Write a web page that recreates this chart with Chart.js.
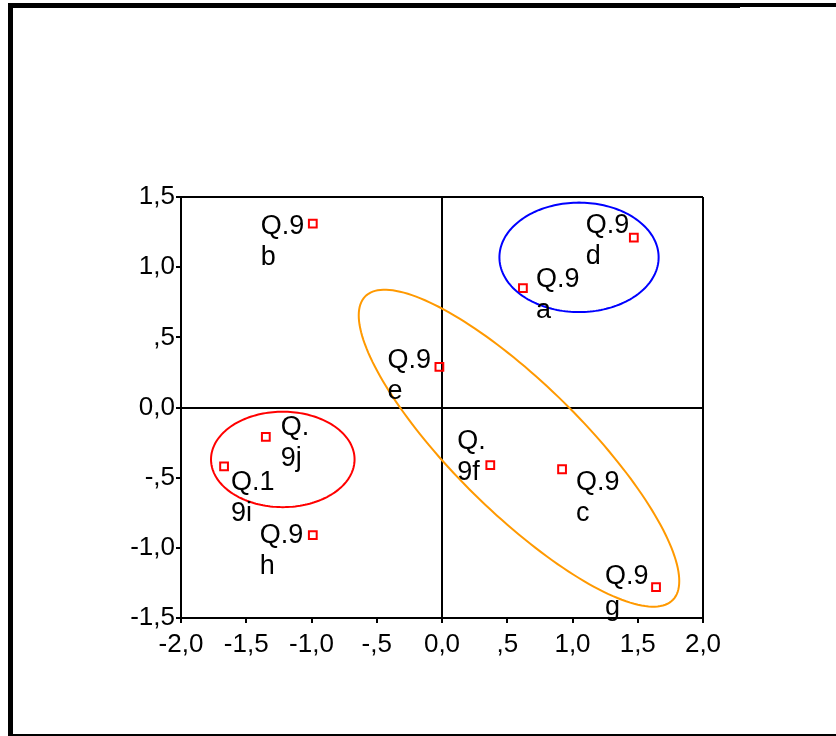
<!DOCTYPE html>
<html>
<head>
<meta charset="utf-8">
<title>Q.9 scatter</title>
<script src="https://cdn.jsdelivr.net/npm/chart.js@4/dist/chart.umd.min.js"></script>
<style>
  html, body { margin: 0; padding: 0; background: #fff; }
  canvas { display: block; }
</style>
</head>
<body>
<canvas id="plot" width="836" height="736"></canvas>
<script>
// ---------- data ----------
const pointNames = ["Q.9a", "Q.9b", "Q.9c", "Q.9d", "Q.9e", "Q.9f", "Q.9g", "Q.9h", "Q.19i", "Q.9j"];
const labelLines = [["Q.9", "a"], ["Q.9", "b"], ["Q.9", "c"], ["Q.9", "d"], ["Q.9", "e"],
                    ["Q.", "9f"], ["Q.9", "g"], ["Q.9", "h"], ["Q.1", "9i"], ["Q.", "9j"]];
const dim1 = [0.62, -0.99, 0.92, 1.47, -0.02, 0.37, 1.64, -0.99, -1.67, -1.35];
const dim2 = [0.85, 1.31, -0.44, 1.21, 0.29, -0.41, -1.28, -0.91, -0.42, -0.21];

const xTickLabels = ["-2,0", "-1,5", "-1,0", "-,5", "0,0", ",5", "1,0", "1,5", "2,0"];
const yTickLabels = ["-1,5", "-1,0", "-,5", "0,0", ",5", "1,0", "1,5"];

// groups circled on the plot: centre and two half-axis vectors (data units)
const groupCentres = [[1.05, 1.07], [-1.22, -0.37], [0.59, -0.29]];
const groupAxisU   = [[0.61, 0], [0.55, 0], [1.18, -1.08]];
const groupAxisV   = [[0, 0.39], [0, 0.34], [-0.34, -0.33]];
const groupColors  = ["#0000ff", "#ff0000", "#ff9900"];

// where each name sits next to its marker (px, from marker to first line)
const labelOffsets = [[13, -9], [-52, 3], [14, 13], [-48, -12], [-52, -6],
                      [-33, -23], [-51, -11], [-53, 0], [7, 16], [15, -9]];

const FONT = "'Liberation Sans', Arial, sans-serif";

// ---------- plugins ----------
const framePlugin = {
  id: "frame",
  beforeDraw(chart) {
    const c = chart.ctx;
    c.save();
    c.fillStyle = "#fff";
    c.fillRect(0, 0, chart.width, chart.height);
    c.fillStyle = "#000";
    c.fillRect(8, 3, 5, chart.height - 3);        // left
    c.fillRect(8, 3, 732, 5);                     // top
    c.fillRect(740, 3, chart.width - 740, 4);
    c.fillRect(8, 734, chart.width - 8, 2);       // bottom
    c.restore();
  }
};

const groupsPlugin = {
  id: "groups",
  afterDatasetsDraw(chart) {
    const c = chart.ctx;
    const xs = chart.scales.x, ys = chart.scales.y;
    c.save();
    c.lineWidth = 2;
    groupCentres.forEach((cen, g) => {
      const u = groupAxisU[g], v = groupAxisV[g];
      c.strokeStyle = groupColors[g];
      c.beginPath();
      for (let k = 0; k <= 180; k++) {
        const t = k / 180 * Math.PI * 2;
        const px = xs.getPixelForValue(cen[0] + u[0] * Math.cos(t) + v[0] * Math.sin(t));
        const py = ys.getPixelForValue(cen[1] + u[1] * Math.cos(t) + v[1] * Math.sin(t));
        if (k === 0) c.moveTo(px, py); else c.lineTo(px, py);
      }
      c.closePath();
      c.stroke();
    });
    c.restore();
  }
};

const namesPlugin = {
  id: "names",
  afterDatasetsDraw(chart) {
    const c = chart.ctx;
    const meta = chart.getDatasetMeta(0);
    c.save();
    c.fillStyle = "#000";
    c.font = "27px " + FONT;
    c.textAlign = "left";
    c.textBaseline = "middle";
    meta.data.forEach((pt, i) => {
      const [dx, dy] = labelOffsets[i];
      labelLines[i].forEach((line, j) => {
        c.fillText(line, pt.x + dx, pt.y + dy + j * 31);
      });
    });
    c.restore();
  }
};

// ---------- chart ----------
const edgeOrZero = (vals) => (ctx) =>
  vals.includes(ctx.tick.value) ? "#000" : "rgba(0,0,0,0)";

const ctx = document.getElementById("plot").getContext("2d");
new Chart(ctx, {
  type: "scatter",
  data: {
    datasets: [{
      label: "Q.9",
      data: dim1.map((x, i) => ({ x: x, y: dim2[i], name: pointNames[i] })),
      pointStyle: "rect",
      radius: 5.5,
      hoverRadius: 5.5,
      borderColor: "#ff0000",
      backgroundColor: "rgba(255,255,255,0)",
      borderWidth: 2
    }]
  },
  options: {
    responsive: false,
    animation: false,
    devicePixelRatio: 1,
    layout: { padding: { left: 120, right: 133, top: 197, bottom: 68 } },
    plugins: { legend: { display: false }, tooltip: { enabled: false } },
    scales: {
      x: {
        type: "linear",
        min: -2, max: 2,
        afterFit: (s) => { s.height = 50; },
        grid: { color: edgeOrZero([-2, 0, 2]), tickColor: "#000", lineWidth: 2, tickLength: 5 },
        border: { display: true, color: "#000", width: 2 },
        ticks: {
          stepSize: 0.5,
          color: "#000",
          padding: 6,
          maxRotation: 0,
          font: { family: FONT, size: 26 },
          callback: (v, i) => xTickLabels[i]
        }
      },
      y: {
        type: "linear",
        min: -1.5, max: 1.5,
        afterFit: (s) => { s.width = 61; },
        grid: { color: edgeOrZero([-1.5, 0, 1.5]), tickColor: "#000", lineWidth: 2, tickLength: 5 },
        border: { display: true, color: "#000", width: 2 },
        ticks: {
          stepSize: 0.5,
          color: "#000",
          padding: 1,
          font: { family: FONT, size: 26 },
          callback: (v, i) => yTickLabels[i]
        }
      }
    }
  },
  plugins: [framePlugin, groupsPlugin, namesPlugin]
});
</script>
</body>
</html>
